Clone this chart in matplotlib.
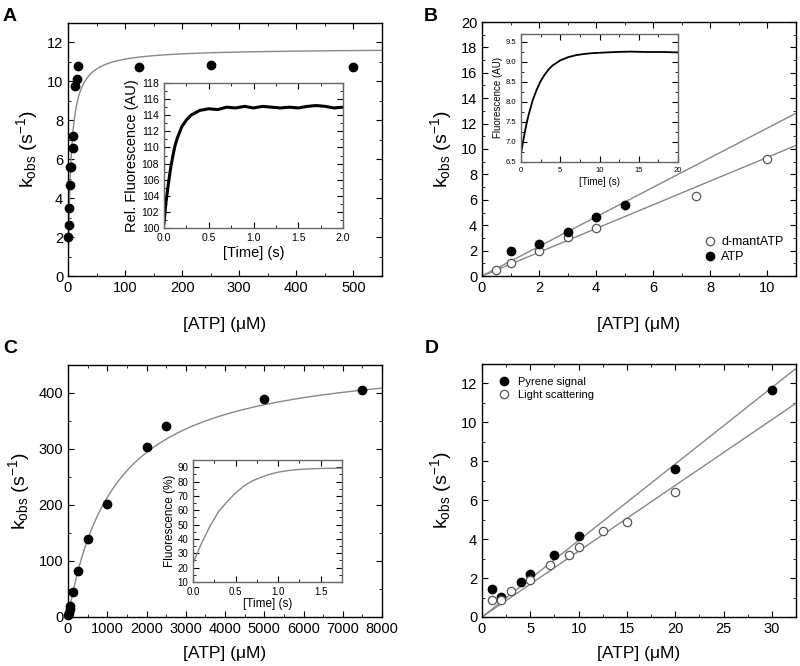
import numpy as np
import matplotlib
matplotlib.use("Agg")
import matplotlib.pyplot as plt
from matplotlib.ticker import MultipleLocator

plt.rcParams['font.family'] = ['Liberation Sans', 'DejaVu Sans']
plt.rcParams['mathtext.fontset'] = 'custom'
plt.rcParams['mathtext.rm'] = 'Liberation Sans'
plt.rcParams['mathtext.it'] = 'Liberation Sans'

# ---- panel A: kobs vs [ATP]
a_atp = [0.5, 1, 2, 3, 4, 5, 8, 9, 13, 15, 18, 125, 250, 500]
a_kobs = [2.0, 2.6, 3.5, 4.7, 5.6, 5.6, 6.6, 7.2, 9.75, 10.1, 10.8, 10.75, 10.85, 10.75]
a_kmax, a_K = 11.7, 5.0
# inset A trace
a_t = [0, 0.02, 0.05, 0.075, 0.1, 0.125, 0.15, 0.2, 0.25, 0.3, 0.35, 0.4, 0.45, 0.5,
       0.6, 0.7, 0.8, 0.9, 1.0, 1.1, 1.2, 1.3, 1.4, 1.5, 1.6, 1.7, 1.8, 1.9, 2.0]
a_fl = [100.6, 103.0, 105.6, 107.5, 109.0, 110.3, 111.2, 112.6, 113.4, 114.0, 114.3, 114.6, 114.7, 114.8,
        114.7, 115.0, 114.9, 115.1, 114.9, 115.1, 115.0, 114.9, 115.0, 114.9, 115.1, 115.2, 115.1, 114.9, 115.0]

# ---- panel B
b_mant_atp = [0.5, 1, 2, 3, 4, 7.5, 10]
b_mant_kobs = [0.5, 1.0, 1.95, 3.05, 3.8, 6.3, 9.2]
b_atp = [1, 2, 3, 4, 5]
b_atp_kobs = [2.0, 2.55, 3.5, 4.65, 5.6]
b_slope_atp, b_slope_mant = 1.165, 0.935
b_t = [0, 0.25, 0.5, 0.75, 1, 1.5, 2, 2.5, 3, 3.5, 4, 5, 6, 7, 8, 9, 10, 12, 14, 16, 18, 20]
b_fl = [6.7, 7.0, 7.26, 7.5, 7.7, 8.05, 8.31, 8.52, 8.68, 8.81, 8.91, 9.04, 9.12, 9.17, 9.2,
        9.22, 9.23, 9.25, 9.26, 9.25, 9.25, 9.24]

# ---- panel C
c_atp = [10, 25, 50, 62, 125, 250, 500, 1000, 2000, 2500, 5000, 7500]
c_kobs = [3, 8, 15, 20, 45, 83, 140, 202, 303, 341, 390, 405]
c_kmax, c_K = 470, 1200
c_t = [0, 0.05, 0.1, 0.15, 0.2, 0.25, 0.3, 0.4, 0.5, 0.6, 0.7, 0.8, 0.9, 1.0, 1.1, 1.2,
       1.3, 1.4, 1.5, 1.6, 1.75]
c_fl = [23, 30, 37, 43, 49, 54, 59, 66, 72, 77, 80.5, 83, 85, 86.5, 87.5, 88.2,
        88.6, 88.9, 89.1, 89.2, 89.3]

# ---- panel D
d_pyr_atp = [1, 2, 4, 5, 7.5, 10, 20, 30]
d_pyr_kobs = [1.45, 1.05, 1.8, 2.2, 3.2, 4.15, 7.6, 11.65]
d_ls_atp = [1, 2, 3, 5, 7, 9, 10, 12.5, 15, 20]
d_ls_kobs = [0.85, 0.85, 1.35, 1.9, 2.65, 3.2, 3.6, 4.4, 4.9, 6.4]
d_slope_pyr, d_slope_ls = 0.393, 0.338

W, H = 800, 666
fig = plt.figure(figsize=(8, 6.66), dpi=100)


def px_axes(l, t, r, b):
    return fig.add_axes([l / W, 1 - b / H, (r - l) / W, (b - t) / H])


def style(ax, xmaj, xmin, ymaj, ymin, size, edge='black'):
    ax.xaxis.set_major_locator(MultipleLocator(xmaj))
    ax.xaxis.set_minor_locator(MultipleLocator(xmin))
    ax.yaxis.set_major_locator(MultipleLocator(ymaj))
    ax.yaxis.set_minor_locator(MultipleLocator(ymin))
    ax.tick_params(which='both', direction='in', top=True, right=True, labelsize=size)
    ax.tick_params(which='major', length=4)
    ax.tick_params(which='minor', length=2)
    for s in ax.spines.values():
        s.set_color(edge)
        s.set_linewidth(1.0)


ylab = r'k$_{\mathregular{obs}}$ (s$^{\mathregular{-1}}$)'
xlab = '[ATP] (\u03bcM)'
fill = dict(ls='none', marker='o', ms=6, mfc='black', mec='black')
hollow = dict(ls='none', marker='o', ms=6, mfc='white', mec='#555555', mew=0.9)
fitline = dict(color='#888888', lw=1.0)

# A
ax = px_axes(68, 23, 382, 276)
xs = np.linspace(0.01, 550, 600)
ax.plot(xs, a_kmax * xs / (xs + a_K), **fitline)
ax.plot(a_atp, a_kobs, clip_on=False, zorder=5, **fill)
ax.set_xlim(0, 550)
ax.set_ylim(0, 13)
style(ax, 100, 50, 2, 1, 10.5)
ax.set_ylabel(ylab, fontsize=14, labelpad=5)
ax.set_xlabel(xlab, fontsize=12.5, labelpad=16)

ins = px_axes(164, 83, 343, 228)
ins.plot(a_t, a_fl, color='black', lw=2.2)
ins.set_xlim(0, 2)
ins.set_ylim(100, 118)
style(ins, 0.5, 0.25, 2, 1, 7.5, edge='#666666')
ins.set_xlabel('[Time] (s)', fontsize=10.5, labelpad=2)
ins.set_ylabel('Rel. Fluorescence (AU)', fontsize=10.5, labelpad=2)

# B
ax = px_axes(482, 22, 796, 276)
xs = np.linspace(0, 11, 50)
ax.plot(xs, b_slope_atp * xs, **fitline)
ax.plot(xs, b_slope_mant * xs, **fitline)
ax.plot(b_mant_atp, b_mant_kobs, label='d-mantATP', **hollow)
ax.plot(b_atp, b_atp_kobs, label='ATP', **fill)
ax.set_xlim(0, 11)
ax.set_ylim(0, 20)
style(ax, 2, 1, 2, 1, 10.5)
ax.set_ylabel(ylab, fontsize=14, labelpad=5)
ax.set_xlabel(xlab, fontsize=12.5, labelpad=16)
ax.legend(loc='lower right', frameon=False, fontsize=9, handletextpad=0.3,
          borderaxespad=0.6, labelspacing=0.25, handlelength=1.2)

ins = px_axes(521, 34, 678, 162)
ins.plot(b_t, b_fl, color='black', lw=1.3)
ins.set_xlim(0, 20)
ins.set_ylim(6.5, 9.7)
style(ins, 5, 2.5, 0.5, 0.25, 5.5, edge='#666666')
ins.set_xlabel('[Time] (s)', fontsize=7, labelpad=2)
ins.set_ylabel('Fluorescence (AU)', fontsize=7, labelpad=2)

# C
ax = px_axes(68, 365, 382, 617)
xs = np.linspace(0, 8000, 600)
ax.plot(xs, c_kmax * xs / (xs + c_K), **fitline)
ax.plot(c_atp, c_kobs, clip_on=False, zorder=5, **fill)
ax.set_xlim(0, 8000)
ax.set_ylim(0, 450)
style(ax, 1000, 500, 100, 50, 10.5)
ax.set_ylabel(ylab, fontsize=14, labelpad=5)
ax.set_xlabel(xlab, fontsize=12.5, labelpad=7)

ins = px_axes(193, 460, 342, 582)
ins.plot(c_t, c_fl, color='#888888', lw=1.0)
ins.set_xlim(0, 1.75)
ins.set_ylim(10, 95)
style(ins, 0.5, 0.25, 10, 5, 7, edge='#666666')
ins.set_xlabel('[Time] (s)', fontsize=8.5, labelpad=1)
ins.set_ylabel('Fluorescence (%)', fontsize=8.5, labelpad=1)

# D
ax = px_axes(482, 364, 796, 617)
xs = np.linspace(0, 32.5, 50)
ax.plot(xs, d_slope_pyr * xs, **fitline)
ax.plot(xs, d_slope_ls * xs, **fitline)
ax.plot(d_pyr_atp, d_pyr_kobs, label='Pyrene signal', **fill)
ax.plot(d_ls_atp, d_ls_kobs, label='Light scattering', **hollow)
ax.set_xlim(0, 32.5)
ax.set_ylim(0, 13)
style(ax, 5, 2.5, 2, 1, 10.5)
ax.set_ylabel(ylab, fontsize=14, labelpad=5)
ax.set_xlabel(xlab, fontsize=12.5, labelpad=7)
ax.legend(loc='upper left', frameon=False, fontsize=8, handletextpad=0.4,
          borderaxespad=0.8, labelspacing=0.2, handlelength=1.6)

for lbl, x, y in [('A', 3, 8), ('B', 424, 8), ('C', 3, 340), ('D', 425, 340)]:
    fig.text(x / W, 1 - y / H, lbl, fontsize=14, fontweight='bold', va='top', ha='left')

fig.savefig('out.png', dpi=100)
